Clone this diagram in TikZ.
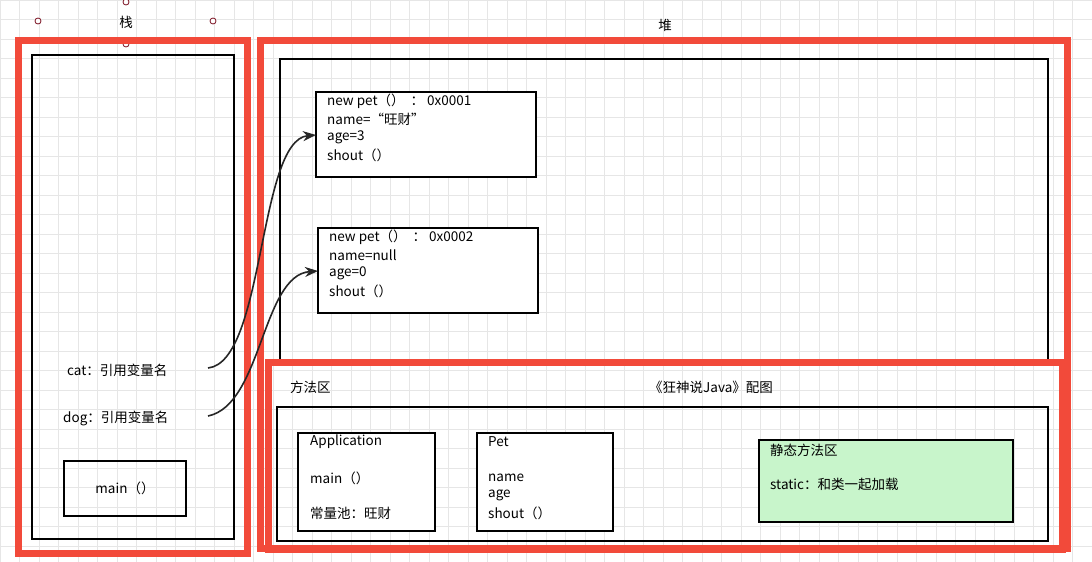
\documentclass[tikz,border=0pt]{standalone}
\usepackage{fontspec}
\setmainfont{Noto Sans CJK SC}
\usetikzlibrary{arrows.meta}
\definecolor{redf}{HTML}{F24A3A}
\definecolor{gridc}{HTML}{E6E6E6}
\definecolor{greenf}{HTML}{C8F5CB}
\definecolor{dotc}{HTML}{7A1020}
\tikzset{
  redframe/.style={draw=redf,line width=7pt},
  blk/.style={draw=black,line width=1.6pt},
  gridline/.style={draw=gridc,line width=0.6pt},
  txt/.style={anchor=west,inner sep=0pt,font=\fontsize{13.5}{16}\selectfont},
  ctxt/.style={inner sep=0pt,font=\fontsize{13.5}{16}\selectfont},
  ptr/.style={-{Stealth[length=13pt,width=10pt]},line width=1.6pt,black!85},
  dot/.style={circle,draw=dotc,fill=white,inner sep=0pt,minimum size=6pt,line width=0.8pt}
}
\begin{document}
\begin{tikzpicture}[x=1pt,y=-1pt]
\useasboundingbox (0,0) rectangle (1092,562);
\fill[white] (0,0) rectangle (1092,562);
\foreach \i in {0,...,56} {\draw[gridline] (\i*19.5,0) -- (\i*19.5,562);}
\foreach \j in {0,...,29} {\draw[gridline] (0,\j*19.5) -- (1092,\j*19.5);}
% stack
\node[dot] (d1) at (38,21) {};
\node[dot] (d2) at (213,21) {};
\node[dot] (d3) at (126,2) {};
\node[dot] (d4) at (126,44) {};
\node[ctxt] (zhan) at (126,22) {栈};
\node[ctxt] (dui) at (665,25) {堆};
\draw[redframe] (18,40) rectangle (247,553);
\draw[blk] (32,55) rectangle (234,539);
\node[txt] (cat) at (67,370) {cat：引用变量名};
\node[txt] (dog) at (63,418) {dog：引用变量名};
\node[blk,minimum width=122pt,minimum height=55pt,ctxt] (main) at (125,488.5) {main（）};
% heap
\draw[redframe] (260,40) rectangle (1067,548);
\draw[blk] (280,59) rectangle (1048,360);
\draw[blk,fill=white] (316,92) rectangle (536,177);
\coordinate (b1) at (316,135);
\node[txt] at (327,101) {new pet（）\ \ ：\ 0x0001};
\node[txt] at (327,119) {name=“旺财”};
\node[txt] at (327,137) {age=3};
\node[txt] at (327,155) {shout（）};
\draw[blk,fill=white] (318,228) rectangle (538,313);
\coordinate (b2) at (318,271);
\node[txt] at (329,237) {new pet（）\ \ ：\ 0x0002};
\node[txt] at (329,255) {name=null};
\node[txt] at (329,273) {age=0};
\node[txt] at (329,291) {shout（）};
% method area
\draw[redframe] (268,362) rectangle (1062,549);
\draw[blk] (277,407) rectangle (1048,541);
\node[txt] at (290,387) {方法区};
\node[txt] at (649,387) {《狂神说Java》配图};
\draw[blk,fill=white] (298,433) rectangle (435,531);
\node[txt] at (310,442) {Application};
\node[txt] at (310,478) {main（）};
\node[txt] at (310,513) {常量池：旺财};
\draw[blk,fill=white] (477,433) rectangle (613,531);
\node[txt] at (488,442) {Pet};
\node[txt] at (488,478) {name};
\node[txt] at (488,495) {age};
\node[txt] at (488,513) {shout（）};
\draw[blk,fill=greenf] (759,440) rectangle (1013,522);
\node[txt] at (770,450) {静态方法区};
\node[txt] at (770,484) {static：和类一起加载};
% pointers
\coordinate (c1) at (208,368);
\coordinate (c2) at (208,416);
\draw[ptr] (c1) .. controls (265,362) and (258,140) .. (b1);
\draw[ptr] (c2) .. controls (262,405) and (262,275) .. (b2);
\end{tikzpicture}
\end{document}
